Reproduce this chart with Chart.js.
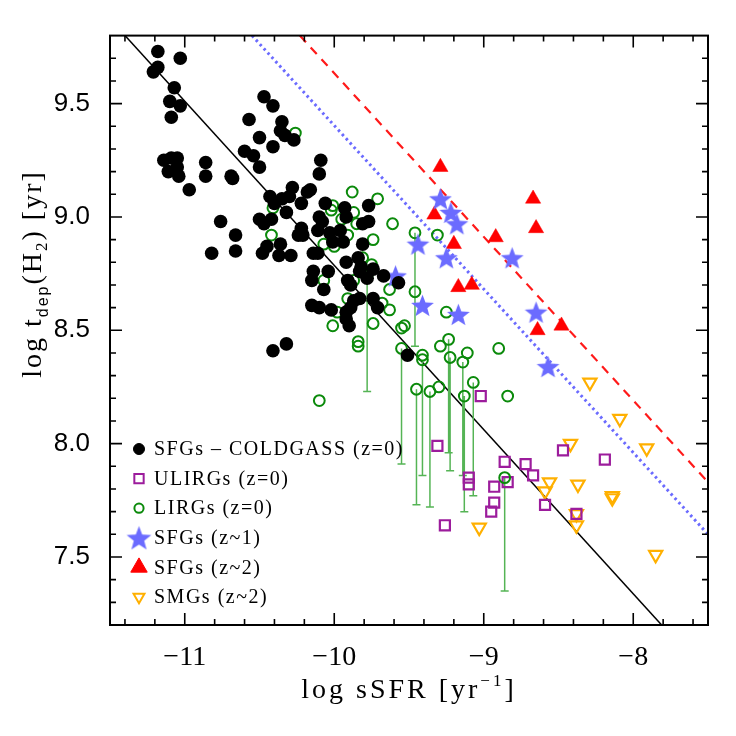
<!DOCTYPE html>
<html>
<head>
<meta charset="utf-8">
<title>t_dep vs sSFR</title>
<script src="https://cdn.jsdelivr.net/npm/chart.js@4.4.1/dist/chart.umd.min.js"></script>
<style>
  html, body { margin: 0; padding: 0; background: #fff; }
  #wrap { width: 736px; height: 736px; }
</style>
</head>
<body>
<div id="wrap"><canvas id="tdep-chart" width="736" height="736"></canvas></div>
<script>
// axis ranges and ticks
const xRange = [-11.5, -7.5];
const yRange = [7.2, 9.8];
const xMajor = [-11, -10, -9, -8];
const yMajor = [7.5, 8.0, 8.5, 9.0, 9.5];

// SFGs - COLDGASS (z=0)
const coldgassX = [
  -11.18, -11.03, -11.21, -11.18, -11.07, -11.10, -11.03, -11.09, -10.47, -10.41,
  -10.57, -10.35, -10.36, -10.33, -10.27, -10.50, -10.41, -10.60, -10.54, -10.50,
  -11.14, -11.09, -11.05, -11.11, -11.05, -11.04, -10.86, -10.86, -10.69, -10.68,
  -10.97, -10.09, -10.10, -10.43, -10.40, -10.35, -10.30, -10.28, -10.18, -10.16,
  -10.22, -10.32, -10.06, -9.93, -9.92, -10.10, -10.08, -10.76, -10.50, -10.47,
  -10.42, -9.77, -9.81, -9.77, -10.66, -10.22, -10.21, -10.24, -10.11, -10.03,
  -9.96, -10.01, -9.94, -9.81, -10.36, -10.45, -10.48, -10.82, -10.66, -10.37,
  -10.29, -10.14, -10.11, -9.92, -9.84, -9.82, -9.83, -9.74, -10.14, -10.15,
  -10.04, -10.07, -9.91, -9.89, -9.78, -9.67, -9.57, -9.83, -9.74, -9.87,
  -9.89, -9.92, -9.92, -9.90, -10.15, -10.10, -10.02, -9.71, -10.32, -10.41,
  -9.51
];
const coldgassY = [
  9.73, 9.70, 9.64, 9.66, 9.57, 9.51, 9.49, 9.44, 9.53, 9.49,
  9.43, 9.42, 9.38, 9.36, 9.34, 9.35, 9.31, 9.29, 9.27, 9.22,
  9.25, 9.26, 9.26, 9.20, 9.22, 9.18, 9.24, 9.18, 9.18, 9.17,
  9.12, 9.25, 9.19, 9.09, 9.06, 9.08, 9.09, 9.13, 9.11, 9.12,
  9.06, 9.02, 9.06, 9.04, 9.00, 9.00, 8.98, 8.98, 8.99, 8.97,
  8.99, 9.05, 8.97, 8.98, 8.92, 8.95, 8.92, 8.92, 8.94, 8.93,
  8.94, 8.89, 8.89, 8.88, 8.88, 8.87, 8.84, 8.84, 8.85, 8.83,
  8.83, 8.84, 8.84, 8.80, 8.82, 8.78, 8.76, 8.77, 8.76, 8.72,
  8.76, 8.68, 8.72, 8.70, 8.73, 8.74, 8.71, 8.64, 8.64, 8.63,
  8.60, 8.58, 8.55, 8.52, 8.61, 8.60, 8.59, 8.60, 8.44, 8.41,
  8.39
];

// LIRGs (z=0)
const lirgX = [
  -10.26, -10.41, -10.01, -10.02, -9.88, -9.71, -9.87, -9.61, -9.85, -9.95,
  -10.42, -10.07, -10.00, -9.91, -9.74, -9.81, -9.75, -9.46, -9.31, -10.07,
  -9.87, -9.63, -9.46, -9.91, -9.98, -9.68, -9.63, -10.01, -9.74, -9.53,
  -9.55, -9.84, -9.84, -9.55, -9.25, -9.29, -9.235, -9.41, -9.41, -9.225,
  -9.14, -9.11, -8.90, -9.07, -9.45, -9.36, -9.30, -9.13, -8.84, -10.10,
  -8.86, -9.78
];
const lirgY = [
  9.37, 9.04, 9.05, 9.03, 9.11, 9.08, 9.02, 8.97, 8.97, 8.99,
  8.92, 8.88, 8.87, 8.92, 8.90, 8.82, 8.79, 8.93, 8.92, 8.72,
  8.72, 8.68, 8.67, 8.64, 8.58, 8.62, 8.59, 8.52, 8.53, 8.52,
  8.51, 8.45, 8.43, 8.42, 8.58, 8.43, 8.46, 8.39, 8.37, 8.38,
  8.36, 8.40, 8.42, 8.27, 8.24, 8.23, 8.25, 8.21, 8.21, 8.19,
  7.85, 8.74
];
// LIRG lower error bars
const limX = [-9.78, -9.46, -9.55, -9.45, -9.41, -9.36, -9.235, -9.225, -9.14, -9.13, -9.07, -8.86];
const limTop = [8.74, 8.93, 8.42, 8.24, 8.37, 8.23, 8.46, 8.38, 8.36, 8.21, 8.27, 7.85];
const limLow = [8.23, 8.43, 7.91, 7.73, 7.86, 7.72, 7.96, 7.88, 7.86, 7.70, 7.77, 7.35];

// ULIRGs (z=0)
const ulirgX = [-9.02, -9.31, -9.10, -9.10, -8.93, -8.86, -8.84, -8.93, -8.95, -8.72, -8.67, -8.47, -8.19, -8.59, -8.38, -9.26];
const ulirgY = [8.21, 7.99, 7.85, 7.82, 7.81, 7.92, 7.83, 7.74, 7.70, 7.91, 7.86, 7.97, 7.93, 7.73, 7.69, 7.64];

// SFGs (z~1)
const z1X = [-9.29, -9.22, -9.18, -9.44, -9.25, -8.81, -9.59, -9.41, -9.17, -8.65, -8.57];
const z1Y = [9.08, 9.02, 8.97, 8.88, 8.82, 8.82, 8.74, 8.61, 8.57, 8.58, 8.34];

// SFGs (z~2)
const z2X = [-9.29, -8.67, -8.65, -9.33, -9.20, -8.92, -9.17, -9.08, -8.64, -8.48];
const z2Y = [9.22, 9.08, 8.95, 9.01, 8.88, 8.91, 8.69, 8.70, 8.50, 8.52];

// SMGs (z~2)
const smgX = [-8.29, -8.09, -8.42, -7.91, -8.56, -8.59, -8.37, -8.14, -8.14, -8.38, -8.38, -9.03, -7.85];
const smgY = [8.27, 8.11, 8.00, 7.98, 7.83, 7.79, 7.82, 7.77, 7.76, 7.69, 7.64, 7.63, 7.51];

// relations
const fitX = [-11.40, -7.81];
const fitY = [9.80, 7.20];
const blueX = [-10.55, -7.50];
const blueY = [9.80, 7.60];
const redX = [-10.23, -7.50];
const redY = [9.80, 7.83];

const legendLabels = ['SFGs \u2013 COLDGASS (z=0)', 'ULIRGs (z=0)', 'LIRGs (z=0)', 'SFGs (z~1)', 'SFGs (z~2)', 'SMGs (z~2)'];

const SERIF = "'Liberation Serif', 'DejaVu Serif', serif";
const SANS = "'Liberation Sans', 'DejaVu Sans', sans-serif";
const STAR_COLOR = '#6b6bff';

function pts(xs, ys) {
    return xs.map((x, i) => ({ x: x, y: ys[i] }));
}

function makeStar(size, color) {
    const c = document.createElement('canvas');
    c.width = size; c.height = size;
    const g = c.getContext('2d');
    const R = size / 2 - 0.5, r = R * 0.42;
    const cx = size / 2, cy = size / 2 + 0.095 * R;
    g.beginPath();
    for (let i = 0; i < 10; i++) {
        const rad = i % 2 ? r : R;
        const a = -Math.PI / 2 + i * Math.PI / 5;
        g.lineTo(cx + rad * Math.cos(a), cy + rad * Math.sin(a));
    }
    g.closePath();
    g.fillStyle = color;
    g.fill();
    return c;
}
const starImg = makeStar(25, STAR_COLOR);

// lower error bars as one broken line
const limData = [];
limX.forEach((x, i) => {
    limData.push({ x: x, y: limTop[i] });
    limData.push({ x: x, y: limLow[i], cap: true });
    limData.push({ x: x, y: null });
});

// draws a row of text pieces (sub/superscripts) centred on x
function drawParts(ctx, parts, x, y, spacing) {
    ctx.letterSpacing = spacing + 'px';
    let w = 0;
    parts.forEach(p => {
        ctx.font = p.size + 'px ' + (p.fam || SERIF);
        p.w = ctx.measureText(p.t).width;
        w += p.w;
    });
    let cx = x - w / 2;
    ctx.textAlign = 'left';
    ctx.textBaseline = 'alphabetic';
    parts.forEach(p => {
        ctx.font = p.size + 'px ' + (p.fam || SERIF);
        ctx.fillText(p.t, cx, y + (p.dy || 0));
        cx += p.w;
    });
    ctx.letterSpacing = '0px';
}

const legendMarks = [
    { pointStyle: 'circle', radius: 5.5, fill: '#000', stroke: '#000', lw: 1 },
    { pointStyle: 'rect', radius: 6.6, fill: 'rgba(0,0,0,0)', stroke: '#9c1c9c', lw: 2 },
    { pointStyle: 'circle', radius: 4.6, fill: 'rgba(0,0,0,0)', stroke: '#0b8a0b', lw: 2 },
    { pointStyle: makeStar(27, STAR_COLOR), radius: 13, fill: STAR_COLOR, stroke: STAR_COLOR, lw: 0 },
    { pointStyle: 'triangle', radius: 9.5, fill: '#ff0000', stroke: '#ff0000', lw: 1 },
    { pointStyle: 'triangle', radius: 6.3, rotation: 180, fill: 'rgba(0,0,0,0)', stroke: '#ffb000', lw: 2 }
];

const idlFrame = {
    id: 'idlFrame',
    beforeDraw(chart) {
        const ctx = chart.ctx;
        ctx.save();
        ctx.fillStyle = '#fff';
        ctx.fillRect(0, 0, chart.width, chart.height);
        ctx.restore();
    },
    afterDraw(chart) {
        const { ctx, chartArea: a } = chart;
        const xs = chart.scales.x, ys = chart.scales.y;
        ctx.save();

        // inward ticks on all four sides
        ctx.strokeStyle = '#000';
        ctx.lineWidth = 1.6;
        ctx.beginPath();
        for (let i = 0; i < 20; i++) {
            const v = -11.4 + 0.2 * i;
            const len = xMajor.some(m => Math.abs(m - v) < 1e-6) ? 12 : 6;
            const px = xs.getPixelForValue(v);
            ctx.moveTo(px, a.bottom); ctx.lineTo(px, a.bottom - len);
            ctx.moveTo(px, a.top); ctx.lineTo(px, a.top + len);
        }
        for (let i = 0; i < 25; i++) {
            const v = 7.3 + 0.1 * i;
            const len = yMajor.some(m => Math.abs(m - v) < 1e-6) ? 12 : 6;
            const py = ys.getPixelForValue(v);
            ctx.moveTo(a.left, py); ctx.lineTo(a.left + len, py);
            ctx.moveTo(a.right, py); ctx.lineTo(a.right - len, py);
        }
        ctx.stroke();
        ctx.lineWidth = 2;
        ctx.strokeRect(a.left, a.top, a.right - a.left, a.bottom - a.top);

        // axis titles
        ctx.fillStyle = '#000';
        drawParts(ctx, [
            { t: 'log sSFR [yr', size: 28 },
            { t: '\u22121', size: 17, dy: -12 },
            { t: ']', size: 28 }
        ], (a.left + a.right) / 2, 698, 3);

        ctx.save();
        ctx.translate(41, 274);
        ctx.rotate(-Math.PI / 2);
        drawParts(ctx, [
            { t: 'log t', size: 28 },
            { t: 'dep', size: 16, dy: 7, fam: SANS },
            { t: '(H', size: 28 },
            { t: '2', size: 17, dy: 6 },
            { t: ') [yr]', size: 28 }
        ], 0, 0, 2);
        ctx.restore();

        // legend inside the plot
        const mx = a.left + 29, tx = a.left + 44;
        const rowTop = a.bottom - 176, rowGap = 29.6;
        legendLabels.forEach((lab, i) => {
            const yy = rowTop + i * rowGap;
            const m = legendMarks[i];
            ctx.fillStyle = m.fill;
            ctx.strokeStyle = m.stroke;
            ctx.lineWidth = m.lw;
            Chart.helpers.drawPoint(ctx, {
                pointStyle: m.pointStyle, radius: m.radius,
                rotation: m.rotation || 0, borderWidth: m.lw
            }, mx, yy);
            ctx.fillStyle = '#000';
            ctx.font = '20px ' + SERIF;
            ctx.letterSpacing = '1.5px';
            ctx.textAlign = 'left';
            ctx.textBaseline = 'middle';
            ctx.fillText(lab, tx, yy + 1);
            ctx.letterSpacing = '0px';
        });
        ctx.restore();
    }
};

const ctx = document.getElementById('tdep-chart').getContext('2d');
const tdepChart = new Chart(ctx, {
    type: 'scatter',
    data: {
        datasets: [
            {
                label: legendLabels[0], data: pts(coldgassX, coldgassY),
                pointStyle: 'circle', pointRadius: 6.8, pointBorderWidth: 0,
                backgroundColor: '#000', borderColor: '#000'
            },
            {
                label: legendLabels[3], data: pts(z1X, z1Y),
                pointStyle: starImg, pointRadius: 12,
                backgroundColor: STAR_COLOR, borderColor: STAR_COLOR
            },
            {
                label: legendLabels[4], data: pts(z2X, z2Y),
                pointStyle: 'triangle', pointRadius: 8.8, pointBorderWidth: 0.5,
                backgroundColor: '#ff0000', borderColor: '#ff0000'
            },
            {
                label: legendLabels[2], data: pts(lirgX, lirgY),
                pointStyle: 'circle', pointRadius: 5.4, pointBorderWidth: 2,
                backgroundColor: 'rgba(0,0,0,0)', borderColor: '#0b8a0b'
            },
            {
                label: legendLabels[1], data: pts(ulirgX, ulirgY),
                pointStyle: 'rect', pointRadius: 7.1, pointBorderWidth: 2.2,
                backgroundColor: 'rgba(0,0,0,0)', borderColor: '#9c1c9c'
            },
            {
                label: legendLabels[5], data: pts(smgX, smgY),
                pointStyle: 'triangle', pointRotation: 180, pointRadius: 7.6, pointBorderWidth: 2.2,
                backgroundColor: 'rgba(0,0,0,0)', borderColor: '#ffb000'
            },
            {
                label: 'LIRG limits', data: limData,
                showLine: true, spanGaps: false, borderColor: '#55b455', borderWidth: 1.5,
                pointStyle: 'line',
                pointRadius: c => (c.raw && c.raw.cap ? 4 : 0),
                pointBorderWidth: 1.5, pointBorderColor: '#55b455'
            },
            {
                label: 'fit', data: pts(fitX, fitY), showLine: true,
                borderColor: '#000', borderWidth: 1.5, pointRadius: 0
            },
            {
                label: 'z~1 relation', data: pts(blueX, blueY), showLine: true,
                borderColor: STAR_COLOR, borderWidth: 3, borderDash: [2.5, 3.3], pointRadius: 0
            },
            {
                label: 'z~2 relation', data: pts(redX, redY), showLine: true,
                borderColor: '#ff1a1a', borderWidth: 2.2, borderDash: [9, 7], pointRadius: 0
            }
        ]
    },
    options: {
        responsive: false,
        devicePixelRatio: 1,
        animation: false,
        events: [],
        layout: { padding: { top: 29, right: 28, left: 0, bottom: 0 } },
        plugins: {
            legend: { display: false },
            tooltip: { enabled: false }
        },
        scales: {
            x: {
                type: 'linear', min: xRange[0], max: xRange[1],
                grid: { display: false, drawTicks: false },
                border: { display: false },
                afterBuildTicks: s => { s.ticks = xMajor.map(v => ({ value: v })); },
                afterFit: s => { s.height = 111; },
                ticks: {
                    padding: 16, color: '#000',
                    font: { family: SERIF, size: 28 },
                    callback: v => (v < 0 ? '\u2212' : '') + Math.abs(v)
                }
            },
            y: {
                type: 'linear', min: yRange[0], max: yRange[1],
                grid: { display: false, drawTicks: false },
                border: { display: false },
                afterBuildTicks: s => { s.ticks = yMajor.map(v => ({ value: v })); },
                afterFit: s => { s.width = 110; },
                ticks: {
                    padding: 20, color: '#000',
                    font: { family: SANS, size: 26 },
                    callback: v => Number(v).toFixed(1)
                }
            }
        }
    },
    plugins: [idlFrame]
});
</script>
</body>
</html>
